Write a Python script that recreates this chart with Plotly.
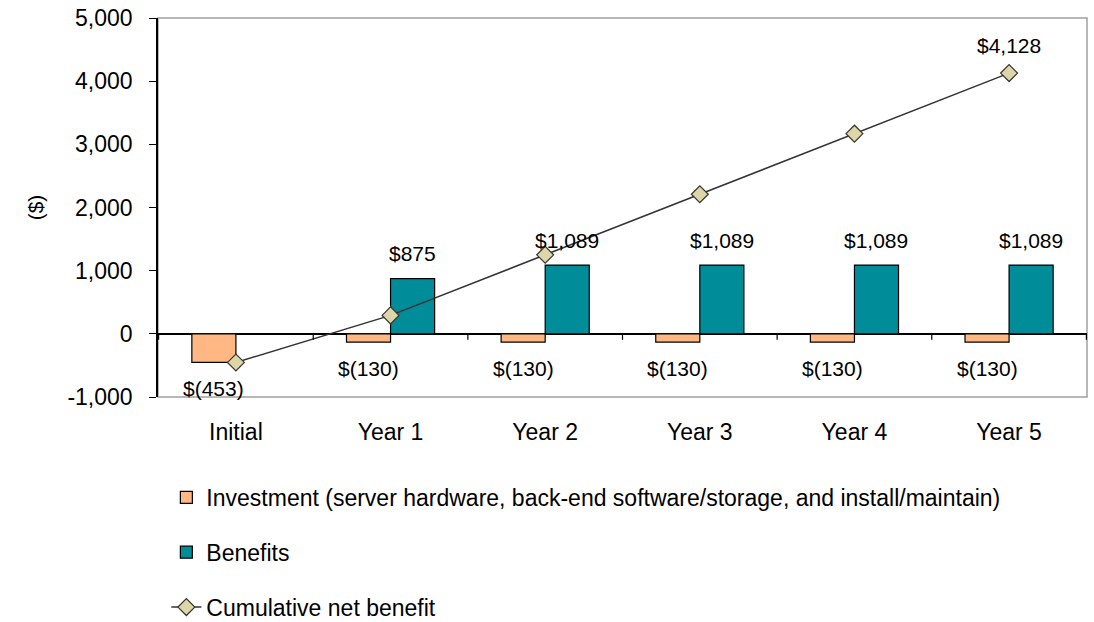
import plotly.graph_objects as go

categories = ["Initial", "Year 1", "Year 2", "Year 3", "Year 4", "Year 5"]
investment = [-453, -130, -130, -130, -130, -130]
benefits = [0, 875, 1089, 1089, 1089, 1089]
cumulative = [-453, 292, 1251, 2210, 3169, 4128]
y_ticks = [-1000, 0, 1000, 2000, 3000, 4000, 5000]
y_tick_labels = ["-1,000", "0", "1,000", "2,000", "3,000", "4,000", "5,000"]

def money(v):
    return f"${v:,}" if v >= 0 else f"$({abs(v):,})"

FONT = "Liberation Sans, Arial, sans-serif"
fig = go.Figure()
fig.add_trace(go.Bar(
    x=categories, y=investment, name="Investment (server hardware, back-end software/storage, and install/maintain)",
    marker=dict(color="#FFB884", line=dict(color="black", width=1.2)), legendgroup="a"))
fig.add_trace(go.Bar(
    x=categories, y=[b if b else None for b in benefits], name="Benefits",
    marker=dict(color="#008C99", line=dict(color="black", width=1.2)), legendgroup="b"))
fig.add_trace(go.Scatter(
    x=categories, y=cumulative, name="Cumulative net benefit", mode="lines+markers",
    line=dict(color="#333333", width=1.5),
    marker=dict(symbol="diamond", size=13, color="#DDD6A8", line=dict(color="#333333", width=1.2)),
    legendgroup="c"))

LBL = dict(size=21, color="black", family=FONT)
annotations = []
for c, v in zip(categories, investment):
    annotations.append(dict(x=c, y=v, text=money(v), showarrow=False, xshift=-22, yshift=-26, font=LBL))
for c, v in zip(categories, benefits):
    if v:
        annotations.append(dict(x=c, y=v, text=money(v), showarrow=False, xshift=22, yshift=25, font=LBL))
annotations.append(dict(x=categories[-1], y=cumulative[-1], text=money(cumulative[-1]), showarrow=False,
                        yshift=28, font=LBL))

shapes = [dict(type="rect", xref="paper", yref="paper", x0=0, x1=1, y0=0, y1=1,
               line=dict(color="#A0A0A0", width=1.5), layer="below")]
for i in range(len(categories) + 1):
    shapes.append(dict(type="line", xref="x", yref="y", ysizemode="pixel", yanchor=0,
                       x0=i - 0.5, x1=i - 0.5, y0=0, y1=-6, line=dict(color="black", width=1.2)))

fig.update_layout(
    width=1094, height=622,
    margin=dict(l=158, r=7, t=18, b=225, autoexpand=False),
    paper_bgcolor="white", plot_bgcolor="white",
    font=dict(family=FONT, size=23, color="black"),
    barmode="group", bargap=0.43, bargroupgap=0,
    annotations=annotations, shapes=shapes,
    showlegend=True,
    legend=dict(orientation="v", x=0.009, xanchor="left", y=-0.208, yanchor="top",
                traceorder="grouped", tracegroupgap=22, font=dict(size=23, family=FONT),
                bgcolor="rgba(0,0,0,0)"),
)
fig.update_xaxes(type="category", showgrid=False, showline=False, zeroline=False,
                 ticks="outside", ticklen=14, tickcolor="rgba(0,0,0,0)",
                 tickfont=dict(size=23))
fig.update_yaxes(range=[-1000, 5000], tickvals=y_ticks, ticktext=y_tick_labels, showgrid=False,
                 showline=True, linecolor="black", linewidth=1.5,
                 ticks="outside", ticklen=7, tickcolor="black", tickwidth=1.2,
                 ticklabelstandoff=12,
                 zeroline=True, zerolinecolor="black", zerolinewidth=1.5,
                 title=dict(text="($)", font=dict(size=21), standoff=18),
                 tickfont=dict(size=23))

fig.write_html("out.html", config={"displayModeBar": False},
               post_script="document.body.style.margin='0';")
